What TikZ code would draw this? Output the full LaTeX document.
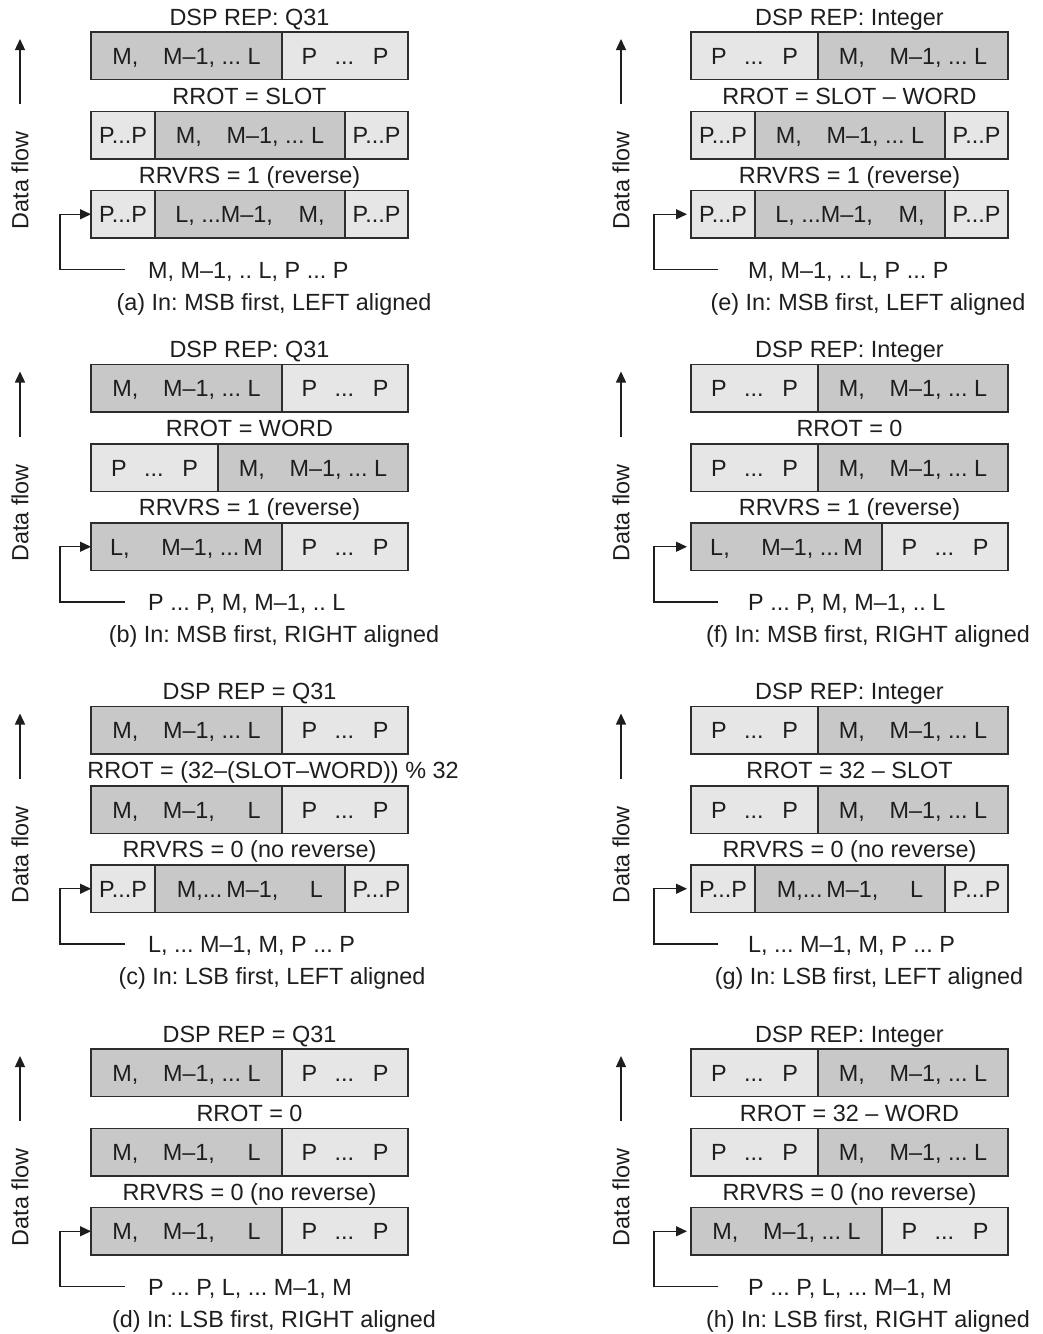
\documentclass[tikz,border=0pt]{standalone}
\usepackage{fontspec}
\setmainfont{Liberation Sans}
\usetikzlibrary{arrows.meta}
\definecolor{bd}{RGB}{45,45,45}
\definecolor{dkg}{RGB}{200,200,200}
\definecolor{ltg}{RGB}{230,230,231}
\definecolor{ink}{RGB}{30,30,30}
\newcommand\bigfont{\fontsize{23.4}{27}\selectfont\frenchspacing}
\newcommand\Mtxt{M,\hspace{1.05em}M–1, ... L}
\newcommand\Ptxt{P\hspace{0.75em}...\hspace{0.8em}P}
\newcommand\MLtxt{M,\hspace{1.05em}M–1,\hspace{1.4em}L}
\newcommand\rowDL[4]{\node[dk,minimum width=191pt] (#1a) at (91,#2) {#3}; \node[lt,minimum width=126pt] (#1b) at (282,#2) {#4};}
\newcommand\rowLD[4]{\node[lt,minimum width=127pt] (#1a) at (91,#2) {#3}; \node[dk,minimum width=190pt] (#1b) at (218,#2) {#4};}
\newcommand\rowLDL[3]{\node[lt,minimum width=64pt] (#1a) at (91,#2) {P...P}; \node[dk,minimum width=190pt] (#1b) at (155,#2) {#3}; \node[lt,minimum width=63pt] (#1c) at (345,#2) {P...P};}
\newcommand\mydeco[6]{%
  \coordinate (#1F1) at (#2,104);
  \coordinate (#1F2) at (#2,39);
  \draw[conn] (#1F1) -- (#1F2);
  \node[dflow] (#1D) at (#2,180.5) {Data flow};
  \coordinate (#1K) at (#4,269.5);
  \coordinate (#1J) at (#3,214.25);
  \draw[conn, shorten >=#6] (#1K) -| (#1J) -- (#5.west);
}
\tikzset{
  seg/.style={draw=bd, line width=1.5pt, minimum height=47.5pt, inner sep=0pt, outer sep=0pt,
    anchor=north west, text height=17pt, text depth=0pt, font=\bigfont, text=ink},
  dk/.style={seg, fill=dkg},
  lt/.style={seg, fill=ltg},
  lbl/.style={font=\bigfont, inner sep=0pt, anchor=base, text=ink},
  btxt/.style={font=\bigfont, inner sep=0pt, anchor=base west, text=ink},
  dflow/.style={font=\bigfont, inner sep=0pt, anchor=center, rotate=90, text=ink},
  conn/.style={draw=ink, line width=1.3pt, -{Triangle[length=11pt,width=10pt]}}
}
\begin{document}
\begin{tikzpicture}[x=1pt,y=-1pt]
\useasboundingbox[fill=white] (0,0) rectangle (1043,1334);

% (a)
\begin{scope}[shift={(0,0)}]
  \node[lbl] (aT) at (249.5,25) {DSP REP: Q31};
  \rowDL{a1}{32}{\Mtxt}{\Ptxt}
  \node[lbl] (aR) at (249.5,104) {RROT = SLOT};
  \rowLDL{a2}{111.5}{\Mtxt}
  \node[lbl] (aV) at (249.5,183) {RRVRS = 1 (reverse)};
  \rowLDL{a3}{190.5}{L, ...M–1,\hspace{1.1em}M,}
  \node[btxt] (aB) at (148,278) {M, M–1, .. L, P ... P};
  \node[lbl] (aC) at (274,310) {(a) In: MSB first, LEFT aligned};
  \mydeco{a}{20}{60}{125}{a3a}{0pt}
\end{scope}

% (b)
\begin{scope}[shift={(0,332.5)}]
  \node[lbl] (bT) at (249.5,25) {DSP REP: Q31};
  \rowDL{b1}{32}{\Mtxt}{\Ptxt}
  \node[lbl] (bR) at (249.5,104) {RROT = WORD};
  \rowLD{b2}{111.5}{\Ptxt}{\Mtxt}
  \node[lbl] (bV) at (249.5,183) {RRVRS = 1 (reverse)};
  \rowDL{b3}{190.5}{L,\hspace{1.35em}M–1, ...\,M}{\Ptxt}
  \node[btxt] (bB) at (148,278) {P ... P, M, M–1, .. L};
  \node[lbl] (bC) at (274,310) {(b) In: MSB first, RIGHT aligned};
  \mydeco{b}{20}{60}{125}{b3a}{0pt}
\end{scope}

% (c)
\begin{scope}[shift={(0,674.5)}]
  \node[lbl] (cT) at (249.5,25) {DSP REP = Q31};
  \rowDL{c1}{32}{\Mtxt}{\Ptxt}
  \node[lbl] (cR) at (273,104) {RROT = (32–(SLOT–WORD)) \% 32};
  \rowDL{c2}{111.5}{\MLtxt}{\Ptxt}
  \node[lbl] (cV) at (249.5,183) {RRVRS = 0 (no reverse)};
  \rowLDL{c3}{190.5}{M,...\,M–1,\hspace{1.35em}L}
  \node[btxt] (cB) at (148,278) {L, ... M–1, M, P ... P};
  \node[lbl] (cC) at (272,310) {(c) In: LSB first, LEFT aligned};
  \mydeco{c}{20}{60}{125}{c3a}{0pt}
\end{scope}

% (d)
\begin{scope}[shift={(0,1017)}]
  \node[lbl] (dT) at (249.5,25) {DSP REP = Q31};
  \rowDL{d1}{32}{\Mtxt}{\Ptxt}
  \node[lbl] (dR) at (249.5,104) {RROT = 0};
  \rowDL{d2}{111.5}{\MLtxt}{\Ptxt}
  \node[lbl] (dV) at (249.5,183) {RRVRS = 0 (no reverse)};
  \rowDL{d3}{190.5}{\MLtxt}{\Ptxt}
  \node[btxt] (dB) at (148,278) {P ... P, L, ... M–1, M};
  \node[lbl] (dC) at (274,310) {(d) In: LSB first, RIGHT aligned};
  \mydeco{d}{20}{60}{125}{d3a}{0pt}
\end{scope}

% (e)
\begin{scope}[shift={(600,0)}]
  \node[lbl] (eT) at (249.5,25) {DSP REP: Integer};
  \rowLD{e1}{32}{\Ptxt}{\Mtxt}
  \node[lbl] (eR) at (249.5,104) {RROT = SLOT – WORD};
  \rowLDL{e2}{111.5}{\Mtxt}
  \node[lbl] (eV) at (249.5,183) {RRVRS = 1 (reverse)};
  \rowLDL{e3}{190.5}{L, ...M–1,\hspace{1.1em}M,}
  \node[btxt] (eB) at (148,278) {M, M–1, .. L, P ... P};
  \node[lbl] (eC) at (268,310) {(e) In: MSB first, LEFT aligned};
  \mydeco{e}{21}{54}{118}{e3a}{4pt}
\end{scope}

% (f)
\begin{scope}[shift={(600,332.5)}]
  \node[lbl] (fT) at (249.5,25) {DSP REP: Integer};
  \rowLD{f1}{32}{\Ptxt}{\Mtxt}
  \node[lbl] (fR) at (249.5,104) {RROT = 0};
  \rowLD{f2}{111.5}{\Ptxt}{\Mtxt}
  \node[lbl] (fV) at (249.5,183) {RRVRS = 1 (reverse)};
  \rowDL{f3}{190.5}{L,\hspace{1.35em}M–1, ...\,M}{\Ptxt}
  \node[btxt] (fB) at (148,278) {P ... P, M, M–1, .. L};
  \node[lbl] (fC) at (268,310) {(f) In: MSB first, RIGHT aligned};
  \mydeco{f}{21}{54}{118}{f3a}{4pt}
\end{scope}

% (g)
\begin{scope}[shift={(600,674.5)}]
  \node[lbl] (gT) at (249.5,25) {DSP REP: Integer};
  \rowLD{g1}{32}{\Ptxt}{\Mtxt}
  \node[lbl] (gR) at (249.5,104) {RROT = 32 – SLOT};
  \rowLD{g2}{111.5}{\Ptxt}{\Mtxt}
  \node[lbl] (gV) at (249.5,183) {RRVRS = 0 (no reverse)};
  \rowLDL{g3}{190.5}{M,...\,M–1,\hspace{1.35em}L}
  \node[btxt] (gB) at (148,278) {L, ... M–1, M, P ... P};
  \node[lbl] (gC) at (269,310) {(g) In: LSB first, LEFT aligned};
  \mydeco{g}{21}{54}{118}{g3a}{4pt}
\end{scope}

% (h)
\begin{scope}[shift={(600,1017)}]
  \node[lbl] (hT) at (249.5,25) {DSP REP: Integer};
  \rowLD{h1}{32}{\Ptxt}{\Mtxt}
  \node[lbl] (hR) at (249.5,104) {RROT = 32 – WORD};
  \rowLD{h2}{111.5}{\Ptxt}{\Mtxt}
  \node[lbl] (hV) at (249.5,183) {RRVRS = 0 (no reverse)};
  \rowDL{h3}{190.5}{\Mtxt}{\Ptxt}
  \node[btxt] (hB) at (148,278) {P ... P, L, ... M–1, M};
  \node[lbl] (hC) at (268,310) {(h) In: LSB first, RIGHT aligned};
  \mydeco{h}{21}{54}{118}{h3a}{4pt}
\end{scope}
\end{tikzpicture}
\end{document}
